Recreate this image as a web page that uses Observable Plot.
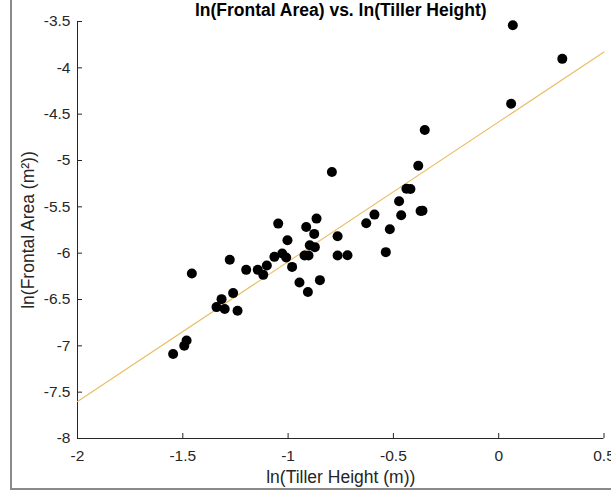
<!DOCTYPE html>
<html>
<head>
<meta charset="utf-8">
<script src="https://cdn.jsdelivr.net/npm/d3@7"></script>
<script src="https://cdn.jsdelivr.net/npm/@observablehq/plot@0.6"></script>
<style>
  body { margin: 0; background: #fff; }
  #frame {
    position: absolute; left: 10px; top: 0; width: 620px; height: 488px;
    border-left: 2px solid #8a8a8a; border-bottom: 2px solid #8a8a8a;
  }
  #chart { position: absolute; left: 0; top: 0; }
</style>
</head>
<body>
<div id="frame"></div>
<div id="chart"></div>
<script>
// Log-transformed tiller measurements
const lnHeight = [
  0.067, 0.302, 0.059, -0.351, -0.382, -0.792, -0.438, -0.419, -0.473, -0.371,
  -0.362, -0.463, -0.590, -0.629, -0.517, -0.536, -0.765, -0.765, -0.718, -0.865,
  -0.914, -0.876, -0.897, -0.873, -0.922, -0.903, -0.849, -0.906, -0.946, -1.047,
  -1.003, -1.065, -1.028, -1.009, -0.981, -1.101, -1.277, -1.199, -1.144, -1.118,
  -1.457, -1.261, -1.316, -1.340, -1.301, -1.240, -1.482, -1.493, -1.546
];
const lnArea = [
  -3.540, -3.903, -4.388, -4.671, -5.056, -5.124, -5.304, -5.307, -5.440, -5.544,
  -5.541, -5.590, -5.584, -5.677, -5.741, -5.989, -5.817, -6.026, -6.022, -5.627,
  -5.717, -5.792, -5.914, -5.935, -6.026, -6.026, -6.291, -6.420, -6.317, -5.681,
  -5.860, -6.040, -6.004, -6.047, -6.148, -6.134, -6.072, -6.180, -6.180, -6.234,
  -6.220, -6.431, -6.496, -6.582, -6.603, -6.622, -6.942, -6.999, -7.088
];

// Least-squares line, evaluated at the ends of the x range
const fitX = [-2, 0.5];
const fitY = [-7.60, -3.83];

const xTicks = [-2, -1.5, -1, -0.5, 0, 0.5];
const yTicks = [-8, -7.5, -7, -6.5, -6, -5.5, -5, -4.5, -4, -3.5];

const titleText = "ln(Frontal Area) vs. ln(Tiller Height)";
const xLabel = "ln(Tiller Height (m))";
const yLabel = "ln(Frontal Area (m²))";

const points = lnHeight.map((x, i) => ({x, y: lnArea[i]}));
const fitLine = fitX.map((x, i) => ({x, y: fitY[i]}));

const W = 611, H = 495;
const mL = 77, mR = 7.5, mT = 21, mB = 57;
const plotW = W - mL - mR, plotH = H - mT - mB;
const axisColor = "#262626";
const tickLen = 5;

const chart = Plot.plot({
  width: W,
  height: H,
  marginLeft: mL,
  marginRight: mR,
  marginTop: mT,
  marginBottom: mB,
  style: {
    fontFamily: "'Liberation Sans', Arial, sans-serif",
    background: "transparent",
    color: axisColor,
    overflow: "visible"
  },
  x: {domain: [-2, 0.5]},
  y: {domain: [-8, -3.5]},
  marks: [
    Plot.axisX(xTicks, {tickSize: 0, tickPadding: 11, tickFormat: d => String(d), label: null, fontSize: 15.5}),
    Plot.axisY(yTicks, {tickSize: 0, tickPadding: 7, tickFormat: d => String(d), label: null, fontSize: 15.5}),
    // inward-pointing ticks
    Plot.tickX(xTicks, {x: d => d, insetTop: plotH - tickLen, stroke: axisColor}),
    Plot.tickY(yTicks, {y: d => d, insetRight: plotW - tickLen, stroke: axisColor}),
    Plot.ruleY([-8], {stroke: axisColor}),
    Plot.ruleX([-2], {stroke: axisColor}),
    Plot.line(fitLine, {x: "x", y: "y", stroke: "#E9BD62", strokeWidth: 1.1}),
    Plot.dot(points, {x: "x", y: "y", r: 5, fill: "black", stroke: "none"}),
    Plot.text([titleText], {frameAnchor: "top", dy: -11, lineAnchor: "middle", fontSize: 17.5, fontWeight: "bold", fill: "#000"}),
    Plot.text([xLabel], {frameAnchor: "bottom", dy: 39, lineAnchor: "middle", fontSize: 17.5, fill: axisColor}),
    Plot.text([yLabel], {frameAnchor: "left", dx: -49, rotate: -90, textAnchor: "middle", lineAnchor: "middle", fontSize: 17.5, fill: axisColor})
  ]
});

document.getElementById("chart").appendChild(chart);
</script>
</body>
</html>
